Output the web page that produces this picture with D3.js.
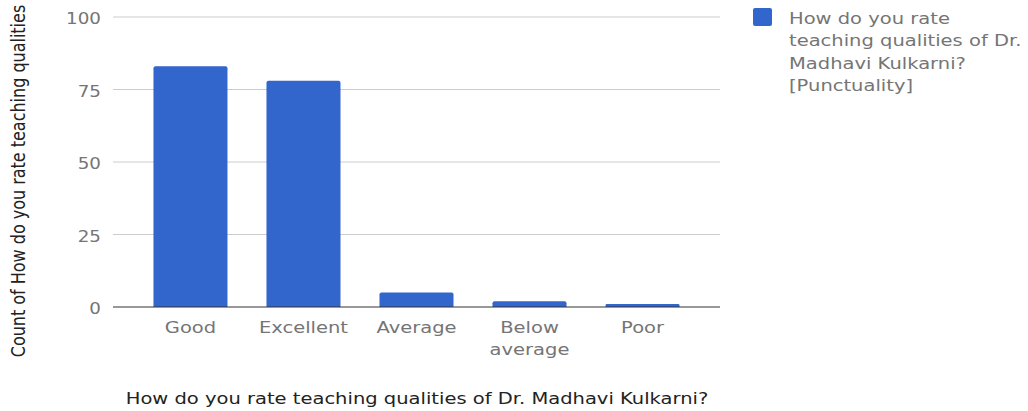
<!DOCTYPE html>
<html>
<head>
<meta charset="utf-8">
<script src="https://cdn.jsdelivr.net/npm/d3@7"></script>
<style>
  html, body { margin: 0; padding: 0; background: #fff; }
  svg { display: block; }
  text { font-family: "DejaVu Sans", Verdana, sans-serif; }
</style>
</head>
<body>
<svg id="chart" width="1028" height="411"></svg>
<script>
// Ratings and their response counts
const categories = ["Good", "Excellent", "Average", "Below average", "Poor"];
const counts = [83, 78, 5, 2, 1];
const yTicks = [0, 25, 50, 75, 100];
const seriesName = "How do you rate teaching qualities of Dr. Madhavi Kulkarni? [Punctuality]";
const legendLines = ["How do you rate", "teaching qualities of Dr.", "Madhavi Kulkarni?", "[Punctuality]"];
const xTitle = "How do you rate teaching qualities of Dr. Madhavi Kulkarni?";
const yTitle = "Count of How do you rate teaching qualities";

const svg = d3.select("#chart");
const area = { left: 113, right: 720, top: 17, bottom: 307 };
const barColor = "#3366cc";
const stretch = 1.22;   // wide text rendering

const x = d3.scaleBand()
  .domain(categories)
  .range([area.left, area.right])
  .paddingInner(0.345)
  .paddingOuter(0.358);

const y = d3.scaleLinear().domain([0, 100]).range([area.bottom, area.top]);

// place a horizontally widened text element at (px, py)
function wideText(parent, px, py, rotate) {
  return parent.append("text")
    .attr("transform", `translate(${px},${py}) scale(${stretch},1)` + (rotate ? ` rotate(${rotate})` : ""));
}

// Horizontal gridlines
svg.append("g").selectAll("line")
  .data(yTicks.filter(t => t !== 0))
  .join("line")
  .attr("x1", area.left).attr("x2", area.right)
  .attr("y1", d => y(d)).attr("y2", d => y(d))
  .attr("stroke", "#cccccc").attr("stroke-width", 1);

// Y tick labels
const tickG = svg.append("g");
yTicks.forEach(t => {
  wideText(tickG, 101, y(t) + 7)
    .attr("text-anchor", "end")
    .attr("fill", "#757575")
    .attr("font-size", 15)
    .text(t);
});

// Bars
svg.append("g").selectAll("path")
  .data(categories.map((c, i) => ({ c, v: counts[i] })))
  .join("path")
  .attr("fill", barColor)
  .attr("d", d => {
    const x0 = x(d.c), w = x.bandwidth();
    const yTop = y(d.v), yBot = y(0);
    const r = Math.min(2, (yBot - yTop) / 2);
    return `M${x0},${yBot}V${yTop + r}Q${x0},${yTop} ${x0 + r},${yTop}` +
           `H${x0 + w - r}Q${x0 + w},${yTop} ${x0 + w},${yTop + r}V${yBot}Z`;
  });

// Baseline
svg.append("line")
  .attr("x1", area.left).attr("x2", area.right)
  .attr("y1", y(0)).attr("y2", y(0))
  .attr("stroke", "#333333").attr("stroke-width", 1);

// Category labels (wrapped)
const wrap = { "Below average": ["Below", "average"] };
const catG = svg.append("g");
categories.forEach(c => {
  const lines = wrap[c] || [c];
  const t = wideText(catG, x(c) + x.bandwidth() / 2, 333)
    .attr("text-anchor", "middle")
    .attr("fill", "#757575")
    .attr("font-size", 16);
  lines.forEach((ln, i) => {
    t.append("tspan").attr("x", 0).attr("y", i * 22.5).text(ln);
  });
});

// Axis titles
wideText(svg, 417, 404)
  .attr("text-anchor", "middle")
  .attr("fill", "#222222")
  .attr("font-size", 16)
  .text(xTitle);

wideText(svg, 25, 181, -90)
  .attr("text-anchor", "middle")
  .attr("fill", "#222222")
  .attr("font-size", 16)
  .text(yTitle);

// Legend
const lg = svg.append("g").attr("aria-label", seriesName);
lg.append("rect")
  .attr("x", 753).attr("y", 8).attr("width", 19).attr("height", 18)
  .attr("rx", 2).attr("fill", barColor);
const lt = wideText(lg, 789, 24).attr("fill", "#757575").attr("font-size", 16);
legendLines.forEach((ln, i) => {
  lt.append("tspan").attr("x", 0).attr("y", i * 22.5).text(ln);
});
</script>
</body>
</html>
